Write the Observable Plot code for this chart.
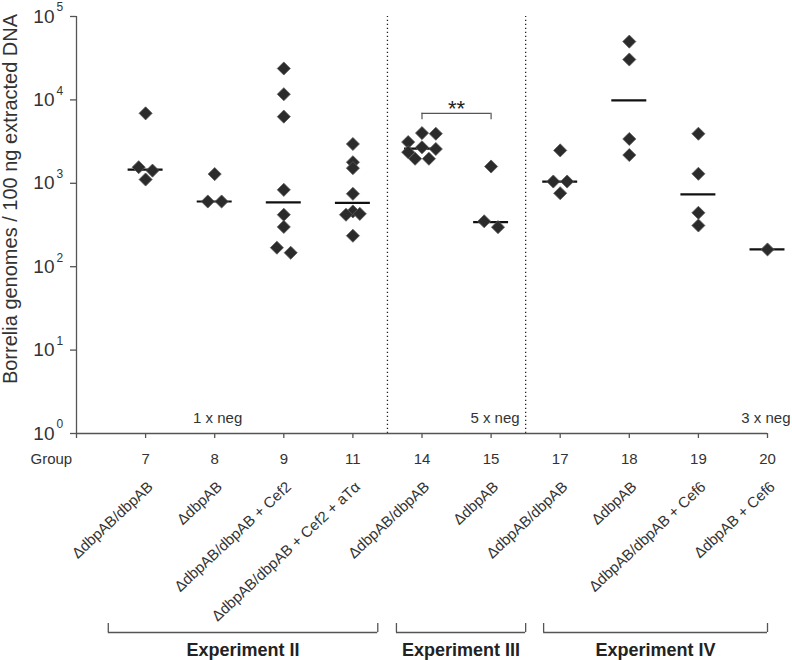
<!DOCTYPE html>
<html><head><meta charset="utf-8">
<script src="https://cdn.jsdelivr.net/npm/d3@7"></script>
<script src="https://cdn.jsdelivr.net/npm/@observablehq/plot@0.6"></script>
<style>body{margin:0;background:#fff}</style>
</head><body><div id="chart"></div>
<script>
// ---- data ----
const groups = ["7", "8", "9", "11", "14", "15", "17", "18", "19", "20"];
const conditions = [
  "ΔdbpAB/dbpAB",
  "ΔdbpAB",
  "ΔdbpAB/dbpAB + Cef2",
  "ΔdbpAB/dbpAB + Cef2 + aTα",
  "ΔdbpAB/dbpAB",
  "ΔdbpAB",
  "ΔdbpAB/dbpAB",
  "ΔdbpAB",
  "ΔdbpAB/dbpAB + Cef6",
  "ΔdbpAB + Cef6"
];
// Borrelia genomes / 100 ng DNA, per mouse, per group
const values = [
  [6900, 1560, 1420, 1110],
  [1290, 605, 605],
  [23800, 11700, 6300, 835, 420, 300, 169, 147],
  [2960, 1790, 1520, 748, 460, 420, 430, 235],
  [4000, 3930, 3120, 2700, 2580, 2360, 1970, 1970],
  [1590, 350, 298],
  [2480, 1050, 1050, 760],
  [50000, 30500, 3400, 2180],
  [3930, 1300, 443, 312],
  [161]
];
// median per group (horizontal bars)
const medians = [1460, 605, 590, 584, 2600, 342, 1050, 9850, 735, 161];
const yTickExponents = [0, 1, 2, 3, 4, 5];
const negLabels = ["1 x neg", "5 x neg", "3 x neg"];
const experiments = [
  {name: "Experiment II", first: "7", last: "11"},
  {name: "Experiment III", first: "14", last: "15"},
  {name: "Experiment IV", first: "17", last: "20"}
];
const significance = {from: "14", to: "15", label: "**", top: 6900, bottom: 5800};
const yTitle = "Borrelia genomes / 100 ng extracted DNA";

// ---- layout helpers (not data) ----
// horizontal dodge slot of each diamond within its group (to avoid overlap)
const slots = [
  [0, -1, 1, 0],
  [0, -1, 1],
  [0, 0, 0, 0, 0, 0, -1, 1],
  [0, 0, 0, 0, 0, -1, 1, 0],
  [0, 2, -2, 0, 2, -2, -1, 1],
  [0, -1, 1],
  [0, -1, 1, 0],
  [0, 0, 0, 0],
  [0, 0, 0, 0],
  [0]
];
const slotW = 0.1;
const bracketPads = [[-0.54, 0.36], [-0.37, 0.5], [-0.24, 0]];

const idx = g => groups.indexOf(g) + 1;
const points = values.flatMap((vs, i) => vs.map((v, j) => ({x: i + 1 + slots[i][j] * slotW, y: v})));
const medData = medians.map((m, i) => ({i: i + 1, m}));
const yTicks = yTickExponents.map(e => 10 ** e);
const dividers = experiments.slice(0, -1).map(e => idx(e.last) + 0.5);
const exps = experiments.map((e, k) => ({
  name: e.name,
  x1: idx(e.first) + bracketPads[k][0],
  x2: idx(e.last) + bracketPads[k][1]
}));
const expEnds = exps.flatMap(e => [e.x1, e.x2]);
const axisColor = "#555";
const textColor = "#333";
const mid = {lineAnchor: "middle", fill: textColor, fontSize: 15};

const chart = Plot.plot({
  width: 792,
  height: 660,
  marginTop: 16,
  marginBottom: 227,
  marginLeft: 76,
  marginRight: 25,
  x: {type: "linear", domain: [0, 10]},
  y: {type: "log", domain: [1, 1e5]},
  style: {fontFamily: '"Liberation Sans", Arial, sans-serif', fontSize: "15px", color: textColor, background: "#fff"},
  marks: [
    Plot.ruleX(dividers, {x: d => d, y1: 1, y2: 1e5, stroke: "#222", strokeWidth: 1.3, strokeDasharray: "1.3,2.7"}),
    Plot.ruleX([0], {y1: 1, y2: 1e5, stroke: axisColor, strokeWidth: 1.3}),
    Plot.ruleY([1], {x1: 0, x2: 10, stroke: axisColor, strokeWidth: 1.3}),
    Plot.axisY({ticks: yTicks, tickSize: 6, tickFormat: () => "", label: null, stroke: axisColor, strokeWidth: 1.3}),
    Plot.axisX({ticks: d3.range(0, 11), tickSize: 5, tickFormat: () => "", label: null, stroke: axisColor, strokeWidth: 1.3}),
    // y tick labels 10^n
    Plot.text(yTicks, {y: d => d, text: () => "10", frameAnchor: "left", textAnchor: "end", dx: -22, ...mid, fontSize: 19}),
    Plot.text(yTickExponents, {y: e => 10 ** e, text: e => String(e), frameAnchor: "left", textAnchor: "start", dx: -20, dy: -9, ...mid, fontSize: 12}),
    Plot.text([yTitle], {frameAnchor: "left", textAnchor: "middle", rotate: -90, dx: -66, dy: -26, ...mid, fontSize: 20}),
    // median bars
    Plot.ruleY(medData, {y: "m", x1: d => d.i - 0.253, x2: d => d.i + 0.253, stroke: "#111", strokeWidth: 2.2}),
    // diamonds
    Plot.dot(points, {x: "x", y: "y", symbol: "diamond2", r: 5.9, fill: "#2b2b2b", stroke: "#5a5a5a", strokeWidth: 0.8}),
    // significance bracket
    Plot.ruleY([significance], {y: "top", x1: d => idx(d.from), x2: d => idx(d.to), stroke: axisColor, strokeWidth: 1.2}),
    Plot.ruleX([significance.from, significance.to], {x: d => idx(d), y1: significance.bottom, y2: significance.top, stroke: axisColor, strokeWidth: 1.2}),
    Plot.text([significance], {x: d => (idx(d.from) + idx(d.to)) / 2, y: "top", text: "label", lineAnchor: "bottom", dy: 3, fontSize: 22, fill: "#222"}),
    // neg labels
    Plot.text([negLabels[0]], {x: 2, frameAnchor: "bottom", dx: 3, dy: -15, ...mid}),
    Plot.text([negLabels[1]], {x: dividers[1], frameAnchor: "bottom", textAnchor: "end", dx: -6, dy: -15, ...mid}),
    Plot.text([negLabels[2]], {x: 10, frameAnchor: "bottom", textAnchor: "end", dx: 23, dy: -15, ...mid}),
    // bottom group numbers and conditions
    Plot.text(["Group"], {frameAnchor: "bottom-left", textAnchor: "start", dx: -46, dy: 26, ...mid}),
    Plot.text(groups, {x: (d, i) => i + 1, text: d => d, frameAnchor: "bottom", dy: 26, ...mid}),
    Plot.text(conditions, {x: (d, i) => i + 1, text: d => d, frameAnchor: "bottom", textAnchor: "end", rotate: -43, dx: 5, dy: 51, ...mid}),
    // experiment brackets
    Plot.ruleY(exps, {y: 1, x1: "x1", x2: "x2", dy: 199, stroke: axisColor, strokeWidth: 1.3}),
    Plot.ruleX(expEnds, {x: d => d, insetTop: 408, dy: 199, stroke: axisColor, strokeWidth: 1.3}),
    Plot.text(exps, {x: d => (d.x1 + d.x2) / 2, text: "name", frameAnchor: "bottom", dy: 217, ...mid, fontSize: 18, fontWeight: "bold", fill: "#222"})
  ]
});
document.getElementById("chart").appendChild(chart);
</script>
</body></html>
